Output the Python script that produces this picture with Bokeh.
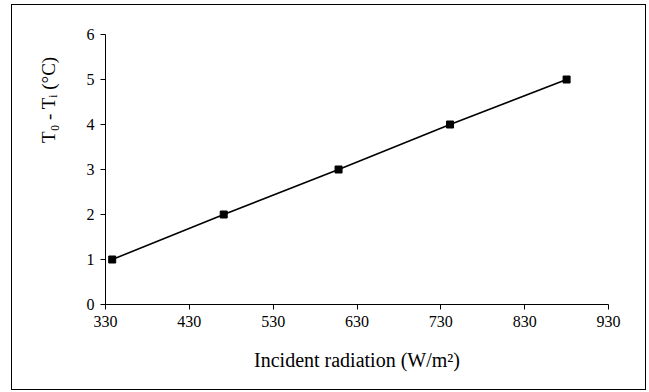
from bokeh.plotting import figure
from bokeh.models import Range1d, FixedTicker, Title
from bokeh.embed import file_html
from bokeh.resources import INLINE

# Data
radiation = [338, 471, 608, 741, 880]
temp_diff = [1, 2, 3, 4, 5]
x_ticks = [330, 430, 530, 630, 730, 830, 930]
y_ticks = [0, 1, 2, 3, 4, 5, 6]

FONT = "Liberation Serif"

# outer chart box: 12..645 x 5..389 in the page
W, H = 633, 384
LEFT, RIGHT, TOP, BOTTOM = 93, 37, 29, 85

p = figure(width=W, height=H, output_backend="svg", toolbar_location=None,
           x_range=Range1d(330, 930), y_range=Range1d(0, 6),
           min_border_left=LEFT, min_border_right=RIGHT,
           min_border_top=TOP, min_border_bottom=BOTTOM)
p.styles = {"margin-left": "12px", "margin-top": "5px",
            "outline": "1.5px solid black"}
p.outline_line_color = None
p.xgrid.visible = False
p.ygrid.visible = False
p.background_fill_color = "white"
p.border_fill_color = "white"

for ax in (p.xaxis[0], p.yaxis[0]):
    ax.axis_line_color = "black"
    ax.axis_line_width = 1
    ax.major_tick_line_color = "black"
    ax.major_tick_in = 0
    ax.major_tick_out = 5
    ax.minor_tick_line_color = None
    ax.major_label_text_font = FONT
    ax.major_label_text_font_size = "16px"
    ax.major_label_text_color = "black"
    ax.major_label_standoff = 6

p.xaxis[0].ticker = FixedTicker(ticks=x_ticks)
p.yaxis[0].ticker = FixedTicker(ticks=y_ticks)

p.xaxis[0].axis_label = "Incident radiation (W/m\u00b2)"
p.xaxis[0].axis_label_text_font = FONT
p.xaxis[0].axis_label_text_font_size = "20px"
p.xaxis[0].axis_label_text_font_style = "normal"
p.xaxis[0].axis_label_text_color = "black"
p.xaxis[0].axis_label_standoff = 19

ytitle = Title(text="T\u2080 - T\u1d62 (\u00b0C)", align="right", offset=22,
               standoff=45, vertical_align="top",
               text_font=FONT, text_font_size="19px", text_font_style="normal",
               text_color="black")
p.add_layout(ytitle, "left")

p.line(radiation, temp_diff, line_color="black", line_width=1.6)
p.scatter(radiation, temp_diff, marker="square", size=7,
          fill_color="black", line_color="black")

open("out.html", "w").write(file_html(p, INLINE))
